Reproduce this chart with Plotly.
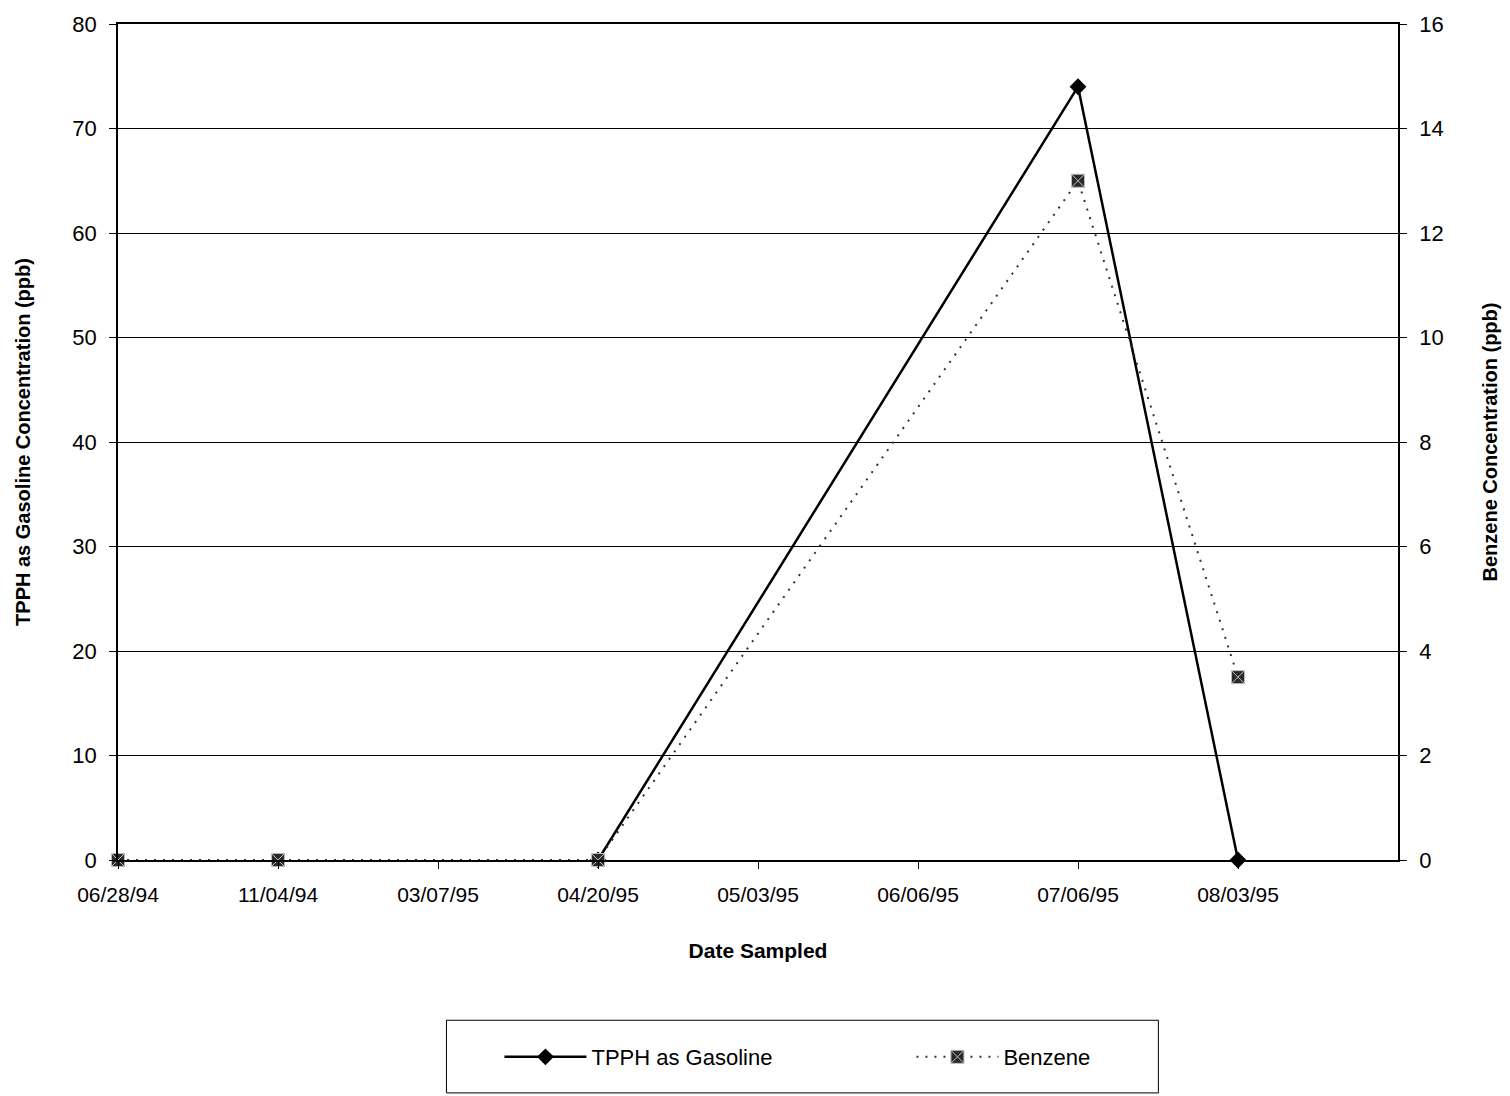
import plotly.graph_objects as go

# Sampling dates (categorical axis, one empty slot at the right end)
dates = ["06/28/94", "11/04/94", "03/07/95", "04/20/95",
         "05/03/95", "06/06/95", "07/06/95", "08/03/95"]

# TPPH as gasoline (ppb); None = not sampled
tpph = [None, None, None, 0, None, None, 74, 0]
# Benzene (ppb); None = not sampled
benzene = [0, 0, None, 0, None, None, 13, 3.5]

font_family = "Liberation Sans, Arial, sans-serif"
idx = list(range(len(dates)))

fig = go.Figure()

fig.add_trace(go.Scatter(
    x=idx, y=tpph, name="TPPH as Gasoline", mode="lines+markers",
    connectgaps=True, cliponaxis=False,
    line=dict(color="black", width=2.5),
    marker=dict(symbol="diamond", size=13, color="black"),
    yaxis="y",
))

fig.add_trace(go.Scatter(
    x=idx, y=benzene, name="Benzene", mode="lines+markers",
    connectgaps=True, cliponaxis=False,
    line=dict(color="#333333", width=2, dash="2px,7px"),
    marker=dict(symbol="square-x", size=13, color="#2a2a2a",
                line=dict(color="#bbbbbb", width=1)),
    yaxis="y2",
))

# Legend frame
fig.add_shape(type="rect", xref="paper", yref="paper",
              x0=0.2566, x1=0.8128, y0=-0.2786, y1=-0.1917,
              line=dict(color="black", width=1), fillcolor="white", layer="below")

fig.update_layout(
    width=1510, height=1096,
    margin=dict(l=118, r=110, t=20, b=236),
    paper_bgcolor="white", plot_bgcolor="white",
    font=dict(family=font_family, size=20, color="black"),
    showlegend=True,
    legend=dict(
        orientation="h", x=0.298, xanchor="left", y=-0.2357, yanchor="middle",
        bgcolor="rgba(0,0,0,0)", borderwidth=0,
        font=dict(family=font_family, size=22, color="black"),
        entrywidth=315, entrywidthmode="pixels", itemwidth=82,
    ),
    xaxis=dict(
        range=[0, 8], tickmode="array", tickvals=idx, ticktext=dates,
        showgrid=False, zeroline=False,
        showline=True, linecolor="black", linewidth=1.5, mirror=True,
        ticks="outside", ticklen=7, tickcolor="black",
        ticklabelstandoff=8,
        tickfont=dict(size=21),
        title=dict(text="<b>Date Sampled</b>", font=dict(size=21), standoff=38),
    ),
    yaxis=dict(
        range=[0, 80], dtick=10,
        showgrid=True, gridcolor="black", gridwidth=1, zeroline=False,
        showline=True, linecolor="black", linewidth=1.5,
        ticks="outside", ticklen=7, tickcolor="black",
        ticklabelstandoff=8,
        tickfont=dict(size=22),
        title=dict(text="<b>TPPH as Gasoline Concentration (ppb)</b>",
                   font=dict(size=20), standoff=36),
    ),
    yaxis2=dict(
        range=[0, 16], dtick=2, overlaying="y", side="right",
        showgrid=False, zeroline=False,
        showline=True, linecolor="black", linewidth=1.5,
        ticks="outside", ticklen=7, tickcolor="black",
        ticklabelstandoff=8,
        tickfont=dict(size=22),
        title=dict(text="<b>Benzene Concentration (ppb)</b>",
                   font=dict(size=20), standoff=40),
    ),
)

fig.write_html("out.html")
